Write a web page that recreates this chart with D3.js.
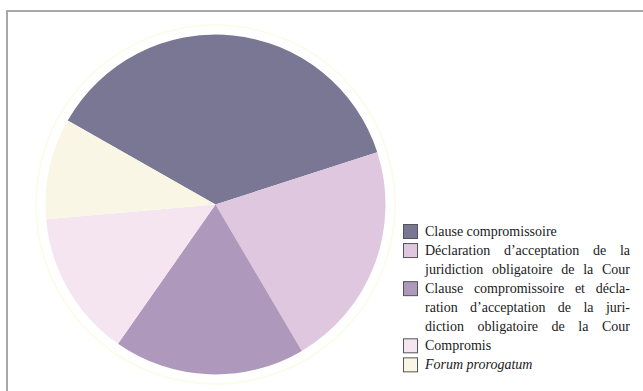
<!DOCTYPE html>
<html>
<head>
<meta charset="utf-8">
<script src="https://cdn.jsdelivr.net/npm/d3@7"></script>
<style>
  html, body { margin: 0; padding: 0; background: #fff; }
  svg { display: block; }
</style>
</head>
<body>
<svg id="chart" width="643" height="391"></svg>
<script>
// ---- data ----
const categories = [
  "Clause compromissoire",
  "Déclaration d’acceptation de la juridiction obligatoire de la Cour",
  "Clause compromissoire et déclaration d’acceptation de la juridiction obligatoire de la Cour",
  "Compromis",
  "Forum prorogatum"
];
const values = [36.8, 21.5, 18.2, 13.9, 9.6];
const colors = ["#7a7794", "#e0c7e0", "#ae98bb", "#f4e5f0", "#faf6e5"];
// legend text as broken in the reference
const legendLines = [
  ["Clause compromissoire"],
  ["Déclaration d’acceptation de la", "juridiction obligatoire de la Cour"],
  ["Clause compromissoire et décla-", "ration d’acceptation de la juri-", "diction obligatoire de la Cour"],
  ["Compromis"],
  ["Forum prorogatum"]
];
const legendItalic = [false, false, false, false, true];

// ---- layout ----
const svg = d3.select("#chart");
const cx = 215.5, cy = 204.5, r = 170;
const deg = Math.PI / 180;

// frame
svg.append("rect")
  .attr("x", 7).attr("y", 11).attr("width", 700).attr("height", 500)
  .attr("fill", "none").attr("stroke", "#a8a8a8").attr("stroke-width", 2);

const g = svg.append("g").attr("transform", `translate(${cx},${cy})`);

// faint halo
g.append("circle").attr("r", r + 9.5)
  .attr("fill", "none").attr("stroke", "#fcfcec").attr("stroke-width", 2);

const pie = d3.pie().sort(null).value(d => d)
  .startAngle(-60.4 * deg).endAngle(299.6 * deg);
const arc = d3.arc().innerRadius(0).outerRadius(r);

g.selectAll("path.slice").data(pie(values)).join("path")
  .attr("class", "slice")
  .attr("d", arc)
  .attr("fill", (d, i) => colors[i]);

// ---- legend ----
const lx = 403.5, tx = 425, tRight = 630;
const lineH = 19.05, firstCenter = 231.5;
const fontFamily = "'Liberation Serif', 'Times New Roman', serif";
const fontSize = 14;
const leg = svg.append("g");

let lineIdx = 0;
legendLines.forEach((lines, i) => {
  const c0 = firstCenter + lineIdx * lineH;
  leg.append("rect")
    .attr("x", lx).attr("y", c0 - 7)
    .attr("width", 14).attr("height", 14)
    .attr("fill", colors[i]).attr("stroke", "#555").attr("stroke-width", 1);
  lines.forEach((line) => {
    const cyLine = firstCenter + lineIdx * lineH;
    const base = cyLine + 4.6;
    const words = line.split(" ");
    const justify = lines.length > 1;
    if (!justify) {
      leg.append("text")
        .attr("x", tx).attr("y", base)
        .attr("font-family", fontFamily).attr("font-size", fontSize)
        .attr("font-style", legendItalic[i] ? "italic" : "normal")
        .attr("fill", "#1a1a1a")
        .text(line);
    } else {
      const nodes = words.map(w => leg.append("text")
        .attr("y", base)
        .attr("font-family", fontFamily).attr("font-size", fontSize)
        .attr("fill", "#1a1a1a")
        .text(w));
      const widths = nodes.map(n => n.node().getComputedTextLength());
      const total = d3.sum(widths);
      const gap = (tRight - tx - total) / Math.max(1, words.length - 1);
      let x = tx;
      nodes.forEach((n, k) => { n.attr("x", x); x += widths[k] + gap; });
    }
    lineIdx++;
  });
});
</script>
</body>
</html>
